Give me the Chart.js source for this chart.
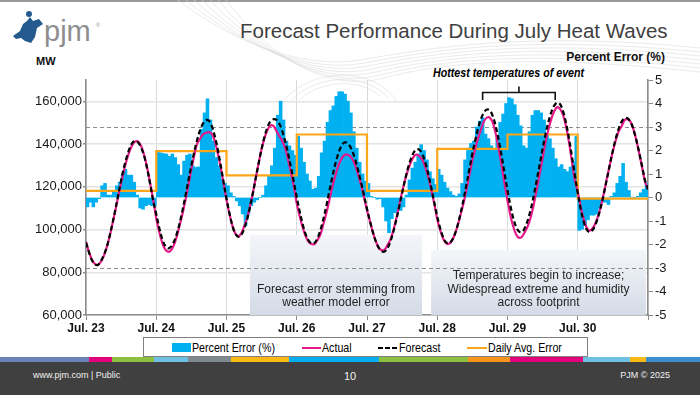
<!DOCTYPE html>
<html>
<head>
<meta charset="utf-8">
<script src="https://cdn.jsdelivr.net/npm/chart.js@4"></script>
<style>
  html, body { margin: 0; padding: 0; }
  body { width: 700px; height: 395px; position: relative; overflow: hidden; background: #fff;
         font-family: 'Liberation Sans', Arial, sans-serif; }
  .abs { position: absolute; white-space: nowrap; line-height: 1; }
  #chart { position: absolute; left: 0; top: 0; }
  .narrow { transform: scaleX(0.82); transform-origin: left center; }
  .lg { position: absolute; top: 2.5px; font-size: 13px; line-height: 1; color: #000; }
</style>
</head>
<body>
<div class="abs" style="left:0;top:0;width:700px;height:2px;background:#9a9a9a"></div>

<!-- decoratieve lijnen achtergrond -->
<svg class="abs" style="left:0;top:0" width="700" height="395">
  <g fill="none" stroke="#dcdcdc" stroke-width="0.6">
    <path d="M178 0 C230 40 300 70 360 60 S520 30 700 48"/>
    <path d="M186 0 C236 42 304 74 364 63 S522 34 700 52"/>
    <path d="M194 0 C242 44 308 78 368 66 S524 38 700 56"/>
    <path d="M202 0 C248 46 312 82 372 69 S526 42 700 60"/>
    <path d="M210 0 C254 48 316 86 376 72 S528 46 700 64"/>
    <path d="M218 0 C260 50 320 90 380 75 S530 50 700 68"/>
    <path d="M226 0 C266 52 324 94 384 78 S532 54 700 72"/>
    <path d="M300 100 C320 80 360 78 380 96"/>
    <path d="M292 100 C316 74 366 72 388 98"/>
    <path d="M284 100 C312 68 372 66 396 100"/>
  </g>
</svg>

<!-- logo -->
<svg class="abs" style="left:0;top:0" width="110" height="50">
  <path d="M13 36 L20 31 L23 24 L27 21 L30 17 L33 21 L39 19 L43 24 L37 28 L35 37 L31 43 L25 41 L21 38 L16 39 Z" fill="#245a8e"/>
  <circle cx="29" cy="14" r="3" fill="#245a8e"/>
  <text x="96" y="27" font-size="5" fill="#8e8e8e">®</text>
</svg>
<div class="abs" style="left:44px;top:17px;font-size:29px;color:#8e8e8e">pjm</div>

<div class="abs" style="left:240px;top:20.6px;font-size:20.5px;color:#404040">Forecast Performance During July Heat Waves</div>
<div class="abs" style="left:36px;top:55.7px;font-size:11px;font-weight:bold;color:#111">MW</div>
<div class="abs" style="right:35px;top:51px;font-size:12px;font-weight:bold;color:#111">Percent Error (%)</div>
<div class="abs narrow" style="left:433px;top:66px;font-size:13px;font-weight:bold;font-style:italic;color:#000">Hottest temperatures of event</div>

<canvas id="chart" width="700" height="395"></canvas>

<!-- legende -->
<div class="abs" style="left:143px;top:337px;width:443px;height:18px;border:1px solid #808080;background:#fff">
  <div class="abs" style="left:28px;top:5px;width:19px;height:9px;background:#00b0f0"></div>
  <div class="lg narrow" style="left:48px">Percent Error (%)</div>
  <div class="abs" style="left:158px;top:8.5px;width:19px;height:2.4px;background:#e6198a"></div>
  <div class="lg narrow" style="left:178px">Actual</div>
  <div class="abs" style="left:234px;top:8.5px;width:5px;height:2.4px;background:#000"></div>
  <div class="abs" style="left:241px;top:8.5px;width:5px;height:2.4px;background:#000"></div>
  <div class="abs" style="left:248px;top:8.5px;width:5px;height:2.4px;background:#000"></div>
  <div class="lg narrow" style="left:255px">Forecast</div>
  <div class="abs" style="left:323px;top:8.5px;width:20px;height:2.4px;background:#fda619"></div>
  <div class="lg narrow" style="left:344px">Daily Avg. Error</div>
</div>

<!-- kleurstrook + voettekst -->
<div id="stripe" class="abs" style="left:0;top:356.5px;width:700px;height:6px"></div>
<div class="abs" style="left:0;top:362px;width:700px;height:33px;background:#404040"></div>
<div class="abs" style="left:33px;top:371.4px;font-size:9px;color:#f2f2f2">www.pjm.com | Public</div>
<div class="abs" style="left:344px;top:371.2px;font-size:11px;color:#f2f2f2">10</div>
<div class="abs" style="right:30px;top:371.4px;font-size:9px;color:#f2f2f2">PJM © 2025</div>

<script>
// Daglabels op de x-as (elke 24 uur)
const dayLabels = ["Jul. 23", "Jul. 24", "Jul. 25", "Jul. 26", "Jul. 27", "Jul. 28", "Jul. 29", "Jul. 30"];
// Tickwaarden linker as (MW)
const mwTicks = [60000, 80000, 100000, 120000, 140000, 160000];

// Uurlijkse prognose (MW), 8 dagen x 24 uur + eindpunt
const forecastMW = [
  93900, 89400, 85700, 83800, 83400, 85100, 87800, 91400, 96500, 102600, 109200, 116200, 123100, 129300, 134300, 138400, 140900, 141400, 140400, 137900, 133700, 127800, 120700, 113200,
  107300, 100900, 95800, 92500, 91200, 91900, 94200, 98000, 103000, 109200, 116000, 123100, 130000, 136500, 142100, 146600, 149700, 151200, 150900, 148400, 143800, 137600, 130200, 122300,
  114500, 107600, 101900, 98100, 96600, 97400, 100200, 104500, 110300, 116900, 124100, 131200, 137800, 143600, 147900, 150700, 151600, 151400, 149700, 146300, 141600, 135800, 129300, 122300,
  115100, 108500, 102600, 98000, 95000, 93500, 93600, 95700, 99300, 104400, 110400, 117100, 123700, 129700, 134800, 138400, 140500, 140700, 139400, 136700, 132600, 127500, 122000, 115800,
  109700, 104000, 98800, 94500, 91500, 89900, 89700, 91300, 94400, 99000, 104500, 110700, 117100, 123300, 128800, 133100, 136200, 137600, 137200, 135000, 131000, 125600, 119300, 112600,
  106100, 100600, 96400, 94000, 93500, 94900, 97800, 102200, 107800, 114200, 121300, 128500, 135600, 142000, 147600, 152000, 154900, 156200, 155700, 153000, 148300, 141900, 134400, 126300,
  118400, 111100, 105200, 101000, 99000, 98900, 101100, 104700, 109800, 116100, 123200, 130600, 137900, 144700, 150600, 155100, 158100, 159400, 158600, 155300, 149900, 142700, 134400, 125600,
  117100, 109600, 103800, 100100, 98800, 99700, 102100, 106100, 111200, 117300, 123900, 130600, 137000, 142700, 147300, 150500, 152200, 152100, 150500, 147000, 142000, 136000, 129500, 123000,
  118800
];

// Uurlijkse werkelijke last (MW)
const actualMW = [
  94300, 89600, 86000, 84000, 83400, 84700, 87300, 91300, 96400, 102300, 108700, 115400, 121900, 127800, 133000, 137100, 140000, 141300, 141000, 138600, 134200, 128200, 121100, 113600,
  105200, 99000, 94000, 90800, 89600, 90200, 92600, 96600, 102000, 107500, 113900, 120900, 128300, 134800, 140300, 142500, 144600, 145300, 145600, 144800, 141400, 135800, 129200, 121600,
  113900, 107400, 101900, 98200, 96900, 98100, 101400, 105200, 110700, 117100, 124200, 131200, 137700, 142900, 146600, 148700, 148500, 146300, 143800, 141600, 138300, 132900, 126800, 120100,
  112200, 106300, 101100, 97000, 94300, 93200, 93200, 94900, 97400, 102000, 107000, 112900, 119100, 124300, 129000, 132400, 134600, 135200, 134600, 133000, 129900, 125600, 120800, 115000,
  109000, 103900, 98800, 94600, 91500, 90300, 90600, 92700, 95300, 99600, 105100, 111300, 117600, 123200, 127800, 131500, 134200, 135100, 134200, 132400, 128900, 124200, 118400, 112000,
  104800, 99700, 95800, 93600, 93300, 94800, 97800, 102000, 107200, 112400, 118800, 125600, 132400, 137900, 143000, 147000, 150800, 152400, 152300, 149900, 144700, 137500, 129800, 121400,
  113600, 106600, 101200, 97600, 96100, 96800, 99000, 101900, 106100, 112000, 118800, 126100, 133500, 140900, 146900, 151900, 155500, 157300, 156400, 153500, 148300, 140900, 132000, 123000,
  117800, 110600, 105100, 101100, 99500, 100500, 102800, 106600, 111400, 117500, 124300, 130500, 136700, 141800, 146000, 148400, 151200, 151600, 150500, 147000, 141900, 135700, 129000, 122300,
  119000
];

// Uurlijkse procentuele fout (%)
const pctError = [
  -0.4, -0.2, -0.4, -0.2, -0.05, 0.5, 0.6, 0.1, 0.1, 0.3, 0.5, 0.65, 0.95, 1.2, 0.95, 0.95, 0.65, 0.1, -0.45, -0.5, -0.35, -0.3, -0.35, -0.35,
  1.99, 1.9, 1.87, 1.85, 1.75, 1.85, 1.7, 1.4, 0.95, 1.55, 1.8, 1.85, 1.35, 1.28, 1.3, 2.9, 3.6, 4.2, 3.3, 2.4, 1.7, 1.35, 0.8, 0.6,
  0.5, 0.2, 0.05, -0.15, -0.35, -0.7, -1.2, -0.7, -0.35, -0.2, -0.1, 0.0, 0.1, 0.5, 0.9, 1.35, 2.1, 3.5, 4.1, 3.3, 2.4, 2.2, 2.0, 1.8,
  2.6, 2.1, 1.5, 1.0, 0.7, 0.35, 0.4, 0.9, 1.9, 2.4, 3.2, 3.7, 3.9, 4.3, 4.5, 4.5, 4.4, 4.1, 3.6, 2.8, 2.1, 1.5, 1.0, 0.7,
  0.6, 0.05, 0.0, -0.07, -0.05, -0.4, -1.0, -1.5, -0.9, -0.65, -0.57, -0.55, -0.4, 0.1, 0.75, 1.25, 1.5, 1.85, 2.25, 2.0, 1.6, 1.1, 0.8, 0.55,
  1.2, 0.95, 0.65, 0.4, 0.25, 0.1, 0.05, 0.15, 0.6, 1.6, 2.1, 2.3, 2.4, 3.0, 3.25, 3.4, 2.7, 2.5, 2.2, 2.05, 2.5, 3.2, 3.55, 4.0,
  4.25, 4.2, 3.95, 3.5, 3.05, 2.2, 2.1, 2.8, 3.5, 3.7, 3.7, 3.6, 3.3, 2.7, 2.5, 2.1, 1.65, 1.3, 1.4, 1.2, 1.1, 1.3, 1.5, 2.6,
  -1.4, -1.35, -1.2, -0.95, -0.75, -0.75, -0.7, -0.45, -0.2, -0.2, -0.3, 0.05, 0.2, 0.6, 0.9, 1.45, 0.65, 0.3, 0.0, 0.0, 0.05, 0.2, 0.35, 0.6
];

// Gemiddelde fout per dag (%)
const dailyAvgError = [0.28, 1.97, 0.94, 2.68, 0.28, 2.07, 2.68, -0.05];

// Kleurstrook boven de voettekst
const stripeColors = [
  ["#6a84b8", 89], ["#e3007b", 23], ["#8cbf3f", 42], ["#6ec1e4", 34], ["#7f8a8f", 43], ["#fdb913", 58],
  ["#00aeef", 90], ["#8cbf3f", 89], ["#f7941d", 42], ["#e3007b", 73], ["#6ec1e4", 47], ["#fdb913", 16], ["#3b8fd0", 54]
];
const stripe = document.getElementById("stripe");
stripeColors.forEach(([c, w]) => {
  const d = document.createElement("div");
  d.style.cssText = "display:inline-block;height:6px;vertical-align:top;width:" + w + "px;background:" + c;
  stripe.appendChild(d);
});

// Tekstvakken (x in uren, top in MW)
const noteBoxes = [
  { from: 56.0, to: 114.8, top: 97500, lines: ["Forecast error stemming from", "weather model error"], offs: [25.5, 12] },
  { from: 117.9, to: 191.3, top: 90400, lines: ["Temperatures begin to increase;", "Widespread extreme and humidity", "across footprint"], offs: [39.5, 25.5, 12] }
];

const FONT = "'Liberation Sans', Arial, sans-serif";
Chart.defaults.font.family = FONT;
Chart.defaults.color = "#1a1a1a";

const notesPlugin = {
  id: "notes",
  beforeDatasetsDraw(chart) {
    const { ctx, chartArea: a, scales } = chart;
    ctx.save();
    noteBoxes.forEach(b => {
      const l = scales.x.getPixelForValue(b.from);
      const r = scales.x.getPixelForValue(b.to);
      const t = scales.y.getPixelForValue(b.top);
      const g = ctx.createLinearGradient(0, t, 0, a.bottom);
      g.addColorStop(0, "#f4f6f9");
      g.addColorStop(1, "#d4dbe7");
      ctx.fillStyle = g;
      ctx.fillRect(l, t, r - l, a.bottom - t);
      ctx.fillStyle = "#1f1f1f";
      ctx.font = "12px " + FONT;
      ctx.textAlign = "center";
      ctx.textBaseline = "middle";
      b.lines.forEach((s, i) => ctx.fillText(s, (l + r) / 2, a.bottom - b.offs[i]));
    });
    // gestippelde lijnen op +/-3 %
    ctx.strokeStyle = "#8c8c8c";
    ctx.lineWidth = 1.2;
    ctx.setLineDash([4, 3]);
    [3, -3].forEach(v => {
      const y = Math.round(scales.y2.getPixelForValue(v)) + 0.5;
      ctx.beginPath();
      ctx.moveTo(a.left, y);
      ctx.lineTo(a.right, y);
      ctx.stroke();
    });
    ctx.restore();
  },
  afterDatasetsDraw(chart) {
    // accolade "Hottest temperatures"
    const { ctx, chartArea: a, scales } = chart;
    const l = scales.x.getPixelForValue(135.5);
    const r = scales.x.getPixelForValue(160.3);
    const m = (l + r) / 2;
    const y = a.top + 12.5;
    ctx.save();
    ctx.strokeStyle = "#111";
    ctx.lineWidth = 1.6;
    ctx.beginPath();
    ctx.moveTo(l, a.top + 20);
    ctx.lineTo(l, y);
    ctx.lineTo(r, y);
    ctx.lineTo(r, a.top + 20);
    ctx.moveTo(m, y);
    ctx.lineTo(m, a.top + 6.5);
    ctx.stroke();
    ctx.restore();
  }
};

new Chart(document.getElementById("chart"), {
  type: "bar",
  data: {
    datasets: [
      {
        type: "line",
        label: "Forecast",
        data: forecastMW.map((v, i) => ({ x: i, y: v })),
        yAxisID: "y",
        borderColor: "#000",
        borderWidth: 2.2,
        borderDash: [5, 3],
        pointRadius: 0,
        tension: 0.35,
        order: 1
      },
      {
        type: "line",
        label: "Actual",
        data: actualMW.map((v, i) => ({ x: i, y: v })),
        yAxisID: "y",
        borderColor: "#e6198a",
        borderWidth: 2.2,
        pointRadius: 0,
        tension: 0.35,
        order: 2
      },
      {
        type: "line",
        label: "Daily Avg. Error",
        data: dailyAvgError.map((v, i) => ({ x: i * 24, y: v })).concat([{ x: 192, y: dailyAvgError[dailyAvgError.length - 1] }]),
        yAxisID: "y2",
        borderColor: "#fda619",
        borderWidth: 2.2,
        pointRadius: 0,
        stepped: true,
        order: 3
      },
      {
        type: "bar",
        label: "Percent Error (%)",
        data: pctError.map((v, i) => ({ x: i + 0.5, y: v })),
        yAxisID: "y2",
        backgroundColor: "#00b0f0",
        borderWidth: 0,
        barPercentage: 1,
        categoryPercentage: 1,
        order: 4
      }
    ]
  },
  options: {
    responsive: false,
    animation: false,
    devicePixelRatio: 1,
    layout: { padding: { top: 80, left: 0, right: 0, bottom: 0 } },
    plugins: { legend: { display: false }, tooltip: { enabled: false } },
    scales: {
      x: {
        type: "linear",
        min: 0,
        max: 192,
        offset: false,
        afterFit: s => { s.height = 80; },
        grid: { offset: false, color: "#dadada", lineWidth: 1, tickLength: 5, tickColor: "#8c8c8c" },
        border: { color: "#8c8c8c", width: 1.5 },
        ticks: {
          stepSize: 24,
          autoSkip: false,
          maxRotation: 0,
          padding: 1,
          font: { size: 12, weight: "bold" },
          color: "#111",
          callback: v => dayLabels[v / 24] || ""
        }
      },
      y: {
        position: "left",
        min: 60000,
        max: 170000,
        afterFit: s => { s.width = 86; },
        afterBuildTicks: s => { s.ticks = mwTicks.map(v => ({ value: v })); },
        grid: { color: "#e4e4e4", lineWidth: 1.5, tickLength: 3, tickColor: "#8c8c8c" },
        border: { color: "#8c8c8c", width: 1.5 },
        ticks: {
          padding: 1,
          font: { size: 13 },
          color: "#1a1a1a",
          callback: v => v.toLocaleString("en-US")
        }
      },
      y2: {
        position: "right",
        min: -5,
        max: 5,
        afterFit: s => { s.width = 52; },
        grid: { drawOnChartArea: false, tickLength: 5, tickColor: "#8c8c8c" },
        border: { color: "#8c8c8c", width: 1.5 },
        ticks: { stepSize: 1, padding: 2, font: { size: 13 }, color: "#1a1a1a" }
      }
    }
  },
  plugins: [notesPlugin]
});
</script>
</body>
</html>
